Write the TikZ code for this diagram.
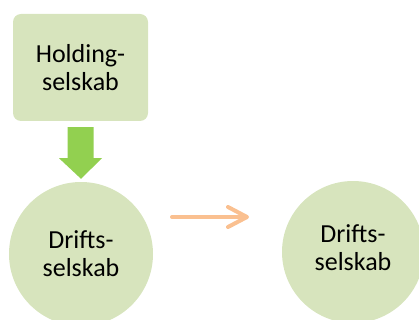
\documentclass[tikz,border=0pt]{standalone}
\usepackage{fontspec}
\setmainfont{Carlito}
\usetikzlibrary{arrows.meta,calc}
\definecolor{boxfill}{HTML}{D7E4BD}
\definecolor{blockgreen}{HTML}{92D050}
\definecolor{shiftorange}{HTML}{FAC090}
\tikzset{
  txt/.style={font=\fontsize{26}{28}\selectfont, align=center, text=black, inner sep=0pt},
  company/.style={txt, rounded corners=8pt, fill=boxfill, minimum width=135pt, minimum height=107pt},
  unit/.style={txt, circle, fill=boxfill},
}
\begin{document}
\begin{tikzpicture}[x=1pt, y=-1pt]
  \useasboundingbox (0,0) rectangle (419,320);
  \clip (0,0) rectangle (419,320);

  % holding company on top, operating company below
  \node[company] (hold) at (80.5,67.5) {Holding-\\selskab};
  \node[unit, minimum size=144pt] (drift1) at (81,254) {Drifts-\\selskab};
  \node[unit, minimum size=142pt] (drift2) at (353,252) {Drifts-\\selskab\rule[-9pt]{0pt}{9pt}};

  % thick block arrow from holding to operating company
  \fill[blockgreen]
    ($(hold.south)+(-13,6)$) -- ($(hold.south)+(13,6)$)
    -- ($(hold.south)+(13,37)$) -- ($(hold.south)+(21.5,37)$)
    -- ($(drift1.north)+(0,-3)$)
    -- ($(hold.south)+(-21.5,37)$) -- ($(hold.south)+(-13,37)$) -- cycle;

  % transition arrow between the two situations
  \coordinate (from) at (172,217);
  \coordinate (to) at (249,217);
  \draw[shiftorange, line width=4pt, line cap=round,
        -{Straight Barb[length=19pt, width=20pt, round]}] (from) -- (to);
\end{tikzpicture}
\end{document}
